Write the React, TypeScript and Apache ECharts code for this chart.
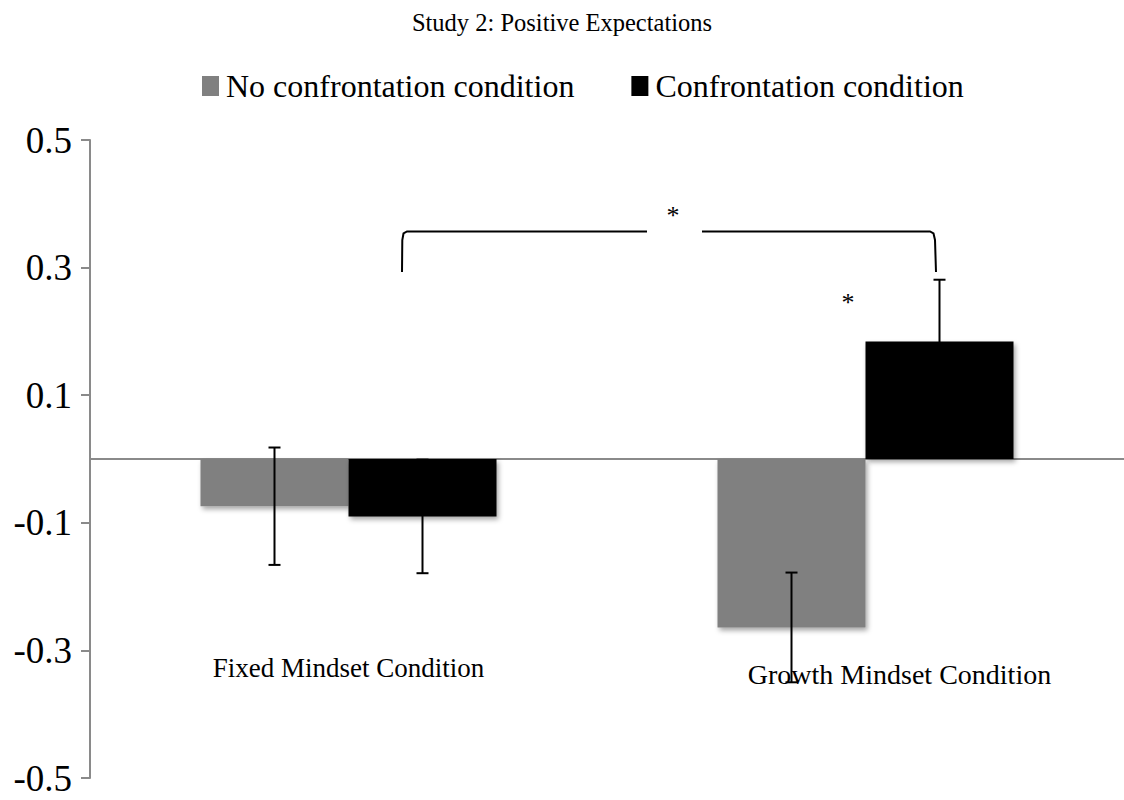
import React, { useEffect, useRef } from "react";
import * as echarts from "echarts";

const title = "Study 2: Positive Expectations";
const categories = ["Fixed Mindset Condition", "Growth Mindset Condition"];
const seriesNames = ["No confrontation condition", "Confrontation condition"];
const noConfrontation = [-0.074, -0.264];
const confrontation = [-0.09, 0.184];
const noConfrontationSE = [0.092, 0.086];
const confrontationSE = [0.089, 0.097];
const yTicks = [-0.5, -0.3, -0.1, 0.1, 0.3, 0.5];

const FONT = "Liberation Serif";
const BAR_W = 148;
const AXIS_GRAY = "#8a8a8a";

function errorSeries(means: number[], ses: number[], offset: number) {
  return {
    type: "custom",
    z: 10,
    silent: true,
    data: means.map((m, i) => [i, m, ses[i]]),
    renderItem: (params: any, api: any) => {
      const i = api.value(0);
      const m = api.value(1);
      const e = api.value(2);
      const hi = api.coord([i, m + e]);
      const lo = api.coord([i, m - e]);
      const x = hi[0] + offset;
      const style = { stroke: "#000", lineWidth: 2 };
      const cap = 6;
      return {
        type: "group",
        children: [
          { type: "line", shape: { x1: x, y1: hi[1], x2: x, y2: lo[1] }, style },
          { type: "line", shape: { x1: x - cap, y1: hi[1], x2: x + cap, y2: hi[1] }, style },
          { type: "line", shape: { x1: x - cap, y1: lo[1], x2: x + cap, y2: lo[1] }, style },
        ],
      };
    },
  };
}

export default function App() {
  const ref = useRef<HTMLDivElement>(null);
  useEffect(() => {
    if (!ref.current) return;
    const chart = echarts.init(ref.current, null, { renderer: "svg" });
    const shadow = {
      shadowBlur: 5,
      shadowOffsetX: 2,
      shadowOffsetY: 3,
      shadowColor: "rgba(0,0,0,0.35)",
    };
    chart.setOption({
      animation: false,
      backgroundColor: "#ffffff",
      textStyle: { fontFamily: FONT },
      title: {
        text: title,
        left: "center",
        top: 5,
        textStyle: { fontFamily: FONT, fontSize: 24.5, fontWeight: "normal", color: "#000" },
      },
      legend: {
        top: 65,
        left: 197,
        itemWidth: 17,
        itemHeight: 20,
        itemGap: 57,
        icon: "rect",
        textStyle: { fontFamily: FONT, fontSize: 32, color: "#000", padding: [0, 0, 0, 2] },
        data: seriesNames,
      },
      grid: { left: 90, top: 140, width: 1040, height: 638, containLabel: false },
      xAxis: {
        type: "category",
        data: categories,
        axisLine: { onZero: true, lineStyle: { color: AXIS_GRAY, width: 2 } },
        axisTick: { show: false },
        axisLabel: {
          margin: -124,
          interval: 0,
          fontFamily: FONT,
          fontSize: 27,
          color: "#000",
          formatter: (v: string, idx: number) => (idx === 0 ? `{a|${v}}` : `{b|${v}}`),
          rich: {
            a: { fontFamily: FONT, fontSize: 27, color: "#000" },
            b: { fontFamily: FONT, fontSize: 28, color: "#000", padding: [6, 0, 0, 68] },
          },
        },
      },
      yAxis: {
        type: "value",
        min: yTicks[0],
        max: yTicks[yTicks.length - 1],
        interval: 0.2,
        splitLine: { show: false },
        axisLine: { show: true, lineStyle: { color: AXIS_GRAY, width: 2 } },
        axisTick: { show: true, length: 9, lineStyle: { color: AXIS_GRAY, width: 2 } },
        axisLabel: {
          margin: 18,
          fontFamily: FONT,
          fontSize: 37,
          color: "#000",
          formatter: (v: number) => v.toFixed(1),
        },
      },
      series: [
        {
          name: seriesNames[0],
          type: "bar",
          data: noConfrontation,
          barWidth: BAR_W,
          barGap: "0%",
          itemStyle: { color: "#808080", ...shadow },
        },
        {
          name: seriesNames[1],
          type: "bar",
          data: confrontation,
          barWidth: BAR_W,
          barGap: "0%",
          itemStyle: { color: "#000000", ...shadow },
        },
        errorSeries(noConfrontation, noConfrontationSE, -BAR_W / 2),
        errorSeries(confrontation, confrontationSE, BAR_W / 2),
      ],
      graphic: [
        {
          type: "polyline",
          shape: { points: [[402, 272], [402.3, 240], [403.5, 233.5], [407, 231.5], [647, 231.5]] },
          style: { stroke: "#000", lineWidth: 2, fill: "none" },
        },
        {
          type: "polyline",
          shape: { points: [[702, 231.5], [930, 231.5], [933.5, 233.5], [935, 240], [936, 272]] },
          style: { stroke: "#000", lineWidth: 2, fill: "none" },
        },
        {
          type: "text",
          x: 673,
          y: 215,
          style: { text: "*", fontFamily: FONT, fontSize: 26, fill: "#000", align: "center", verticalAlign: "middle" },
        },
        {
          type: "text",
          x: 848,
          y: 302,
          style: { text: "*", fontFamily: FONT, fontSize: 26, fill: "#000", align: "center", verticalAlign: "middle" },
        },
      ],
    });
    return () => chart.dispose();
  }, []);
  return (
    <div
      ref={ref}
      style={{ position: "fixed", left: 0, top: 0, width: 1124, height: 800, background: "#fff" }}
    />
  );
}
